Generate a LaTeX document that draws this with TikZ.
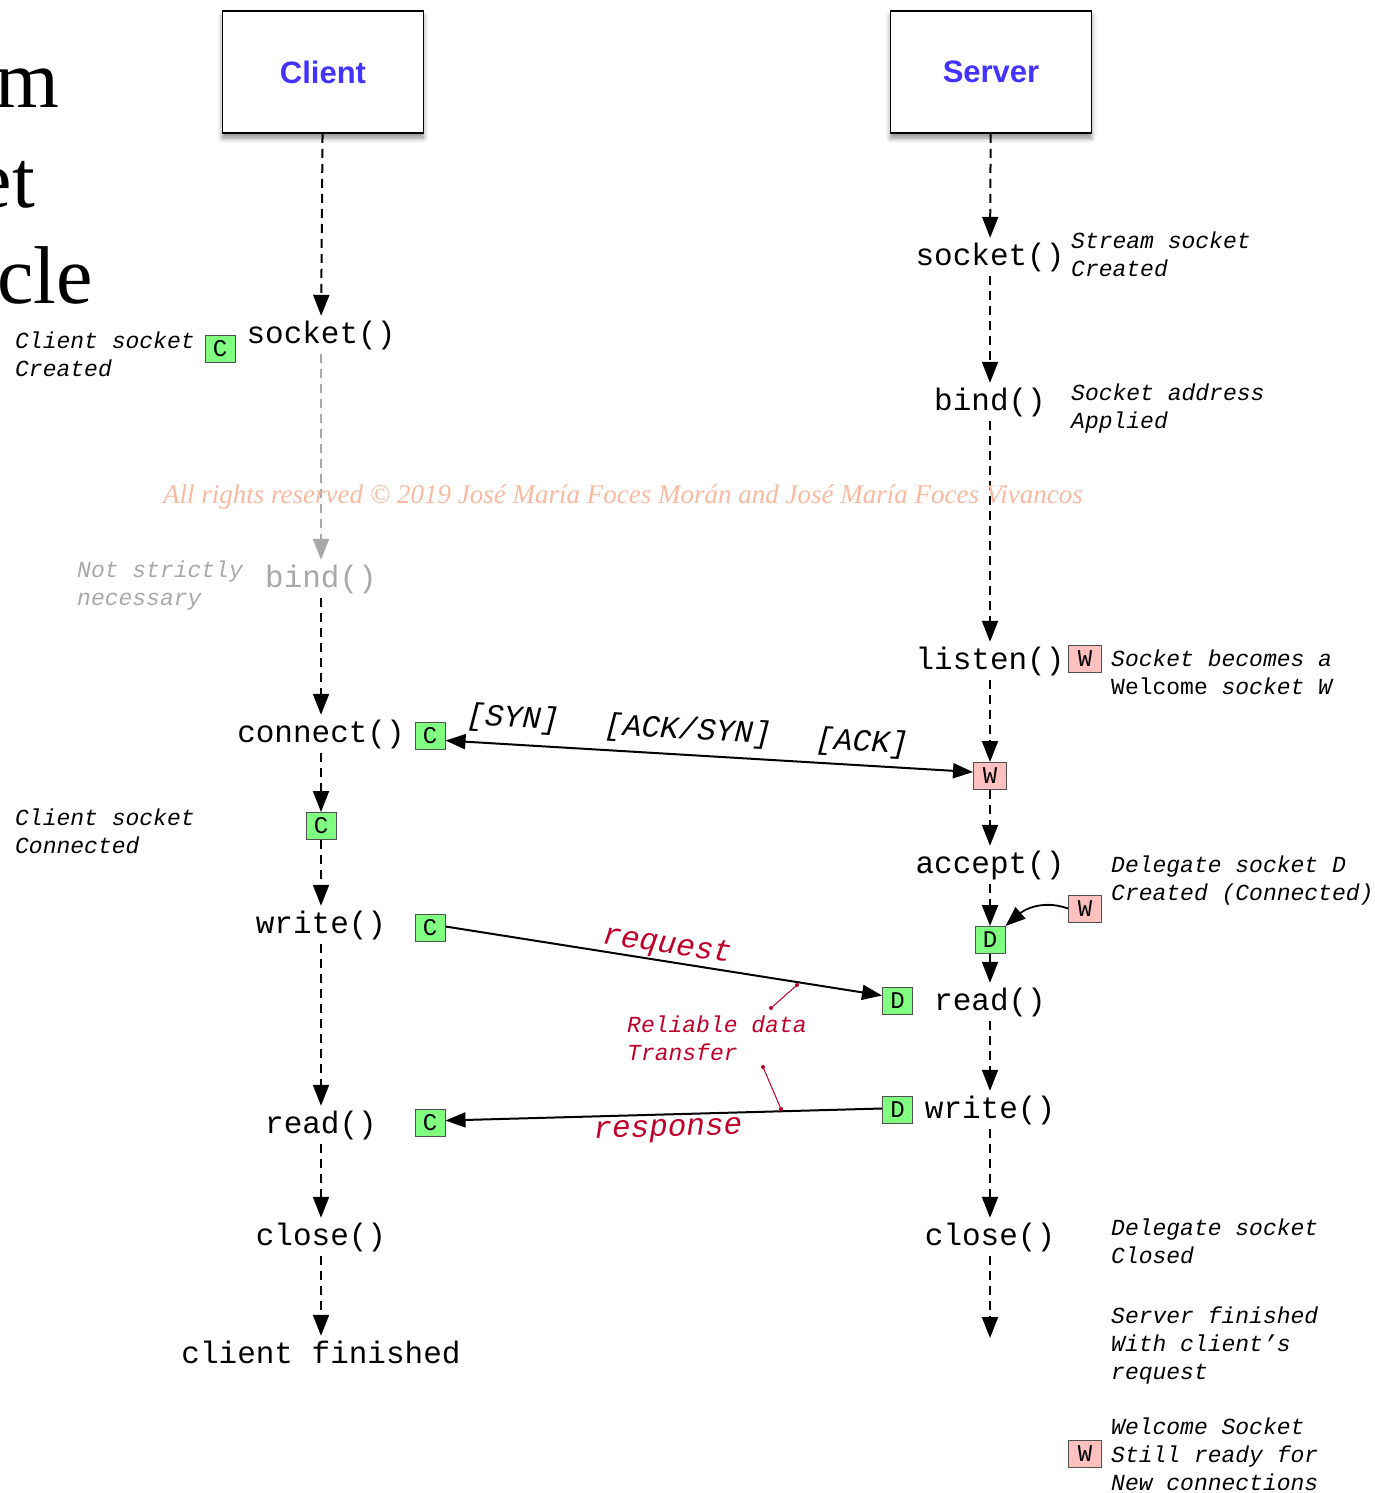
\documentclass[tikz,border=0pt]{standalone}
\usepackage{fontspec}
\setmainfont{Liberation Serif}
\newfontfamily\monofam{Liberation Mono}
\newfontfamily\headfam{Liberation Sans}
\usetikzlibrary{arrows.meta,shadows.blur}

\definecolor{headblue}{HTML}{4433FF}
\definecolor{sockgreen}{HTML}{80FF80}
\definecolor{sockpink}{HTML}{FFC0C0}
\definecolor{boxedge}{HTML}{505050}
\definecolor{notered}{HTML}{C0002A}
\definecolor{fadegray}{HTML}{A8A8A8}
\definecolor{markcolor}{HTML}{F9B9A0}

\tikzset{
  actor/.style={draw, line width=1.6pt, fill=white, minimum width=201pt,
    minimum height=122pt,
    blur shadow={shadow xshift=0pt, shadow yshift=-5pt,
      shadow blur radius=5pt, shadow opacity=45},
    font=\headfam\bfseries\fontsize{31}{31}\selectfont, text=headblue},
  call/.style={font=\monofam\fontsize{31}{31}\selectfont, inner xsep=2pt,
    inner ysep=3pt, text height=24pt, text depth=8pt, anchor=base},
  tag/.style={draw=boxedge, line width=1pt, minimum width=30pt,
    minimum height=27pt, inner sep=0pt,
    font=\monofam\fontsize{24}{24}\selectfont},
  csock/.style={tag, fill=sockgreen},
  wsock/.style={tag, fill=sockpink, minimum width=33pt},
  % multi-line notes: the base anchor sits on the last line
  note/.style={font=\monofam\itshape\fontsize{23}{28}\selectfont,
    align=left, anchor=base west, inner sep=0pt},
  seg/.style={font=\monofam\itshape\fontsize{31}{31}\selectfont, inner sep=0pt},
  payload/.style={font=\monofam\itshape\fontsize{31}{31}\selectfont,
    text=notered, inner sep=0pt},
  flow/.style={line width=2pt, dash pattern=on 9pt off 6pt,
    -{Triangle[length=21pt,width=16pt]}},
  msg/.style={line width=2pt, -{Triangle[length=20pt,width=15pt]}},
  twoway/.style={line width=2pt,
    {Triangle[length=20pt,width=15pt]}-{Triangle[length=20pt,width=15pt]}},
  pin/.style={draw=notered, line width=1pt},
  pindot/.style={circle, fill=notered, inner sep=0pt, minimum size=4pt}
}

\begin{document}
\begin{tikzpicture}[x=1pt,y=-1pt]
\useasboundingbox (0,0) rectangle (1375,1493);

% title fragments at the left edge
\node[font=\fontsize{82}{82}\selectfont, anchor=base east, inner sep=0pt] (t1) at (59,108) {m};
\node[font=\fontsize{82}{82}\selectfont, anchor=base east, inner sep=0pt] (t2) at (35,207) {et};
\node[font=\fontsize{82}{82}\selectfont, anchor=base east, inner sep=0pt] (t3) at (93,303) {cle};

% the two parties
\node[actor] (client) at (323,72) {Client};
\node[actor] (server) at (991,72) {Server};

% client calls
\node[call] (csocket)  at (321,343)  {socket()};
\node[call, text=fadegray] (cbind) at (321,587) {bind()};
\node[call] (cconnect) at (321,742)  {connect()};
\node[csock] (cconn)   at (321,826)  {C};
\node[call] (cwrite)   at (321,933)  {write()};
\node[call] (cread)    at (321,1133) {read()};
\node[call] (cclose)   at (321,1245) {close()};
\node[call] (cdone)    at (321,1363) {client finished};

% client socket tags
\node[csock] (ctag1) at (220,348.5)  {C};
\node[csock] (ctag2) at (430,735.5)  {C};
\node[csock] (ctag3) at (430,927.5)  {C};
\node[csock] (ctag4) at (430,1122.5) {C};

% client notes
\node[note] (ncreated) at (15,376) {Client socket\\Created};
\node[note, text=fadegray] (nopt) at (77,605) {Not strictly\\necessary};
\node[note] (nconn) at (15,853) {Client socket\\Connected};

% server calls
\node[call] (ssocket) at (990,265)  {socket()};
\node[call] (sbind)   at (990,410)  {bind()};
\node[call] (slisten) at (990,669)  {listen()};
\node[wsock] (swel)   at (990,776)  {W};
\node[call] (saccept) at (990,873)  {accept()};
\node[csock] (sdel)   at (990,940)  {D};
\node[call] (sread)   at (990,1010) {read()};
\node[call] (swrite)  at (990,1118) {write()};
\node[call] (sclose)  at (990,1245) {close()};
\coordinate (send) at (990,1338);

% server socket tags
\node[wsock] (stag1) at (1085,658.5) {W};
\node[wsock] (stag2) at (1085,908.5) {W};
\node[csock] (stag3) at (897.5,1000.5) {D};
\node[csock] (stag4) at (897.5,1109.5) {D};
\node[wsock] (stag5) at (1085,1454) {W};

% server notes
\node[note] (n1) at (1071,276) {Stream socket\\Created};
\node[note] (n2) at (1071,428) {Socket address\\Applied};
\node[note] (n3) at (1111,694) {Socket becomes a\\{\upshape Welcome} socket W};
\node[note] (n4) at (1111,900) {Delegate socket D\\Created (Connected)};
\node[note] (n5) at (1111,1263) {Delegate socket\\Closed};
\node[note] (n6) at (1111,1379) {Server finished\\With client’s\\request};
\node[note] (n7) at (1111,1490) {Welcome Socket\\Still ready for\\New connections};

% client lifeline
\draw[flow] (client) -- (csocket);
\draw[flow, draw=fadegray, fill=fadegray] (csocket) -- (cbind);
\draw[flow] (cbind) -- (cconnect);
\draw[flow] (cconnect) -- (cconn);
\draw[flow] (cconn) -- (cwrite);
\draw[flow] (cwrite) -- (cread);
\draw[flow] (cread) -- (cclose);
\draw[flow] (cclose) -- (cdone);

% server lifeline
\draw[flow] (server) -- (ssocket);
\draw[flow] (ssocket) -- (sbind);
\draw[flow] (sbind) -- (slisten);
\draw[flow] (slisten) -- (swel);
\draw[flow] (swel) -- (saccept);
\draw[flow] (saccept) -- (sdel);
\draw[flow] (sdel) -- (sread);
\draw[flow] (sread) -- (swrite);
\draw[flow] (swrite) -- (sclose);
\draw[flow] (sclose) -- (send);

% welcome socket spawns the delegate
\draw[msg, line width=1.8pt] (stag2.west) .. controls +(-28,-10) and +(16,-14) .. (sdel.north east);

% three-way handshake
\draw[twoway] ([yshift=-5pt]ctag2.east) -- ([yshift=4pt]swel.west);
\node[seg, rotate=-3.4] (lsyn)    at (513,719) {[SYN]};
\node[seg, rotate=-3.4] (lacksyn) at (688,731) {[ACK/SYN]};
\node[seg, rotate=-3.4] (lack)    at (862,743) {[ACK]};

% request and response
\draw[msg] ([yshift=1pt]ctag3.east) -- ([yshift=5pt]stag3.west);
\draw[msg] ([yshift=1pt]stag4.west) -- ([yshift=2pt]ctag4.east);
\node[payload, rotate=-8.6] (lreq)  at (667,946)  {request};
\node[payload, rotate=1.7]  (lresp) at (668,1131) {response};

% reliable transfer callout
\node[note, text=notered] (nrel) at (627,1060) {Reliable data\\Transfer};
\coordinate (p1a) at (771,1008);
\coordinate (p1b) at (797,985);
\coordinate (p2a) at (763,1067);
\coordinate (p2b) at (781,1109);
\draw[pin] (p1a) -- (p1b);
\draw[pin] (p2a) -- (p2b);
\node[pindot] (d1) at (p1a) {};
\node[pindot] (d2) at (p1b) {};
\node[pindot] (d3) at (p2a) {};
\node[pindot] (d4) at (p2b) {};

% copyright line
\node[font=\itshape\fontsize{27}{27}\selectfont, text=markcolor, anchor=base, inner sep=0pt] (mark) at (623,503)
  {All rights reserved © 2019 José María Foces Morán and José María Foces Vivancos};
\end{tikzpicture}
\end{document}
